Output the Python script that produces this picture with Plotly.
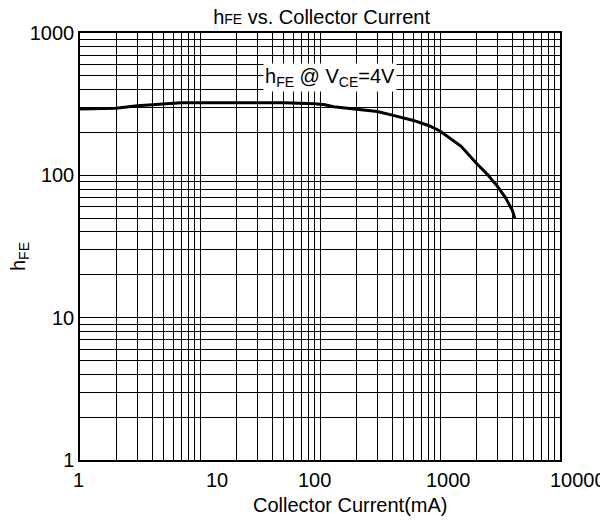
import math
import plotly.graph_objects as go

# data
current_mA = [1, 2, 3, 5, 7, 10, 20, 50, 90, 110, 130, 200, 300, 400, 600, 800,
              1000, 1500, 2000, 2500, 3000, 3500, 4000, 4200]
hfe = [293, 296, 308, 316, 323, 324, 324, 324, 318, 313, 303, 292, 281, 265, 243, 224,
       205, 160, 122, 101, 84, 70, 57, 50]

x_tick_vals = [1, 10, 100, 1000, 10000]
x_tick_text = ["1", "10", "100", "1000", "10000"]
x_tick_shift = [-2, 17, -6, 8, 18]
y_tick_vals = [1, 10, 100, 1000]
y_tick_text = ["1", "10", "100", "1000"]

label_pos = (121, 483)

FONT = "Liberation Sans, Arial, sans-serif"
FS = 20

def minor_grid(decades):
    vals = []
    for d in decades:
        for m in range(1, 10):
            vals.append(m * 10 ** d)
    vals.append(10 ** (decades[-1] + 1))
    return vals

xgrid = minor_grid([0, 1, 2, 3])
ygrid = minor_grid([0, 1, 2])

fig = go.Figure()
fig.add_trace(go.Scatter(x=current_mA, y=hfe, mode="lines",
                         line=dict(color="black", width=3), showlegend=False))

fig.update_layout(
    width=608, height=525,
    margin=dict(l=72, r=56, t=25, b=73),
    paper_bgcolor="white", plot_bgcolor="white",
    font=dict(family=FONT, size=FS, color="black"),
    title=dict(text="h<span style='font-size:14px'>FE</span> vs. Collector Current",
               x=306 / 608, xanchor="center", xref="paper",
               y=1 - 9 / 525, yanchor="middle", font=dict(size=20)),
)

fig.update_xaxes(type="log", range=[0, 4], tickvals=xgrid, ticktext=[""] * len(xgrid),
                 showgrid=True, gridcolor="black", gridwidth=1,
                 showline=True, linecolor="black", linewidth=1.5, mirror=True,
                 ticks="", zeroline=False)
fig.update_yaxes(type="log", range=[0, 3], tickvals=ygrid,
                 ticktext=[(str(v) if v in y_tick_vals else "") for v in ygrid],
                 showgrid=True, gridcolor="black", gridwidth=1,
                 showline=True, linecolor="black", linewidth=1.5, mirror=True,
                 ticks="", zeroline=False, tickfont=dict(size=FS))

for v, t, s in zip(x_tick_vals, x_tick_text, x_tick_shift):
    fig.add_annotation(x=math.log10(v), y=0, xref="x", yref="paper", text=t, showarrow=False,
                       xanchor="center", yanchor="middle", xshift=s, yshift=-20,
                       font=dict(size=FS))

fig.add_annotation(x=(350 - 80) / 480, y=0, xref="paper", yref="paper",
                   text="Collector Current(mA)", showarrow=False,
                   xanchor="center", yanchor="middle", yshift=-45, font=dict(size=FS))
fig.add_annotation(x=(19 - 80) / 480, y=(460 - 257) / 427, xref="paper", yref="paper",
                   text="h<sub>FE</sub>", showarrow=False, textangle=-90,
                   xanchor="center", yanchor="middle", font=dict(size=FS))
fig.add_annotation(x=math.log10(label_pos[0]), y=math.log10(label_pos[1]), xref="x", yref="y",
                   text="h<sub>FE</sub> @ V<sub>CE</sub>=4V", showarrow=False,
                   bgcolor="white", xanchor="center", yanchor="middle",
                   borderpad=1, font=dict(size=FS))

fig.write_html("out.html")
